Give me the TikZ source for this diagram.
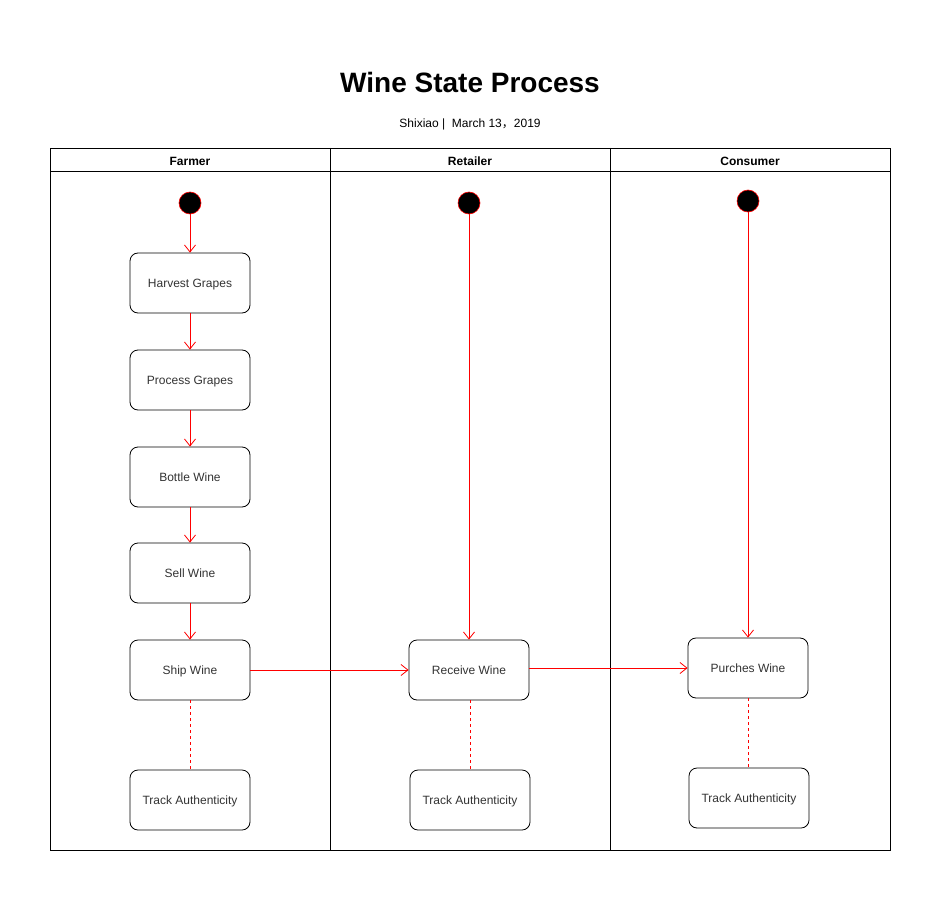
\documentclass[tikz,border=0pt]{standalone}
\usepackage{fontspec}
\setmainfont{Liberation Sans}
\newfontfamily\cjk{Noto Sans CJK SC}
\usetikzlibrary{arrows.meta}
\definecolor{txt}{HTML}{333333}
\tikzset{
  statebox/.style={draw=black, rounded corners=8pt, minimum width=120pt, minimum height=60pt, inner sep=0pt, font=\fontsize{12}{14}\selectfont, text=txt, line width=0.8pt, text height=8.6pt, text depth=0pt},
  startdot/.style={circle, fill=black, draw=red, minimum size=22pt, inner sep=0pt, line width=0.6pt},
  flow/.style={draw=red, line width=0.8pt, -{Straight Barb[length=7pt,width=11pt,line width=0.8pt]}},
  trace/.style={draw=red, line width=0.8pt, dash pattern=on 3pt off 3pt},
  lane/.style={draw=black, line width=0.8pt},
  hdr/.style={font=\bfseries\fontsize{12}{14}\selectfont, text height=8.6pt, text depth=0pt, inner sep=0pt}
}
\begin{document}
\begin{tikzpicture}[x=1pt,y=-1pt]
\useasboundingbox (0,0) rectangle (941,901);
\fill[white] (0,0) rectangle (941,901);
% title
\node[font=\bfseries\fontsize{28}{32}\selectfont, text height=20pt, text depth=0pt, inner sep=0pt] (title) at (470,83) {Wine State Process};
\node[font=\fontsize{12}{14}\selectfont, text=black, text height=8.6pt, text depth=0pt, inner sep=0pt] (sub) at (470,123) {Shixiao |\ \ March 13{\cjk ，}2019};
% pool
\draw[lane] (50,148) rectangle (890,850);
\draw[lane] (50,171) -- (890,171);
\draw[lane] (330,148) -- (330,850);
\draw[lane] (610,148) -- (610,850);
\node[hdr] (h1) at (190,161) {Farmer};
\node[hdr] (h2) at (470,161) {Retailer};
\node[hdr] (h3) at (750,161) {Consumer};
% farmer
\node[startdot] (s1) at (190,203) {};
\node[statebox] (harvest) at (190,283) {Harvest Grapes};
\node[statebox] (process) at (190,380) {Process Grapes};
\node[statebox] (bottle) at (190,477) {Bottle Wine};
\node[statebox] (sell) at (190,573) {Sell Wine};
\node[statebox] (ship) at (190,670) {Ship Wine};
\node[statebox] (t1) at (190,800) {Track Authenticity};
% retailer
\node[startdot] (s2) at (469,203) {};
\node[statebox] (receive) at (469,670) {Receive Wine};
\node[statebox] (t2) at (470,800) {Track Authenticity};
% consumer
\node[startdot] (s3) at (748,201) {};
\node[statebox] (purch) at (748,668) {Purches Wine};
\node[statebox] (t3) at (749,798) {Track Authenticity};
% flows
\draw[flow] (s1) -- (harvest);
\draw[flow] (harvest) -- (process);
\draw[flow] (process) -- (bottle);
\draw[flow] (bottle) -- (sell);
\draw[flow] (sell) -- (ship);
\draw[flow] (ship) -- (receive);
\draw[flow] (purch.west -| receive.east) -- (purch.west);
\draw[flow] (s2) -- (receive);
\draw[flow] (s3) -- (purch);
\draw[trace] (ship) -- (t1);
\draw[trace] (receive.south -| t2) -- (t2);
\draw[trace] (purch) -- (purch |- t3.north);
\end{tikzpicture}
\end{document}
